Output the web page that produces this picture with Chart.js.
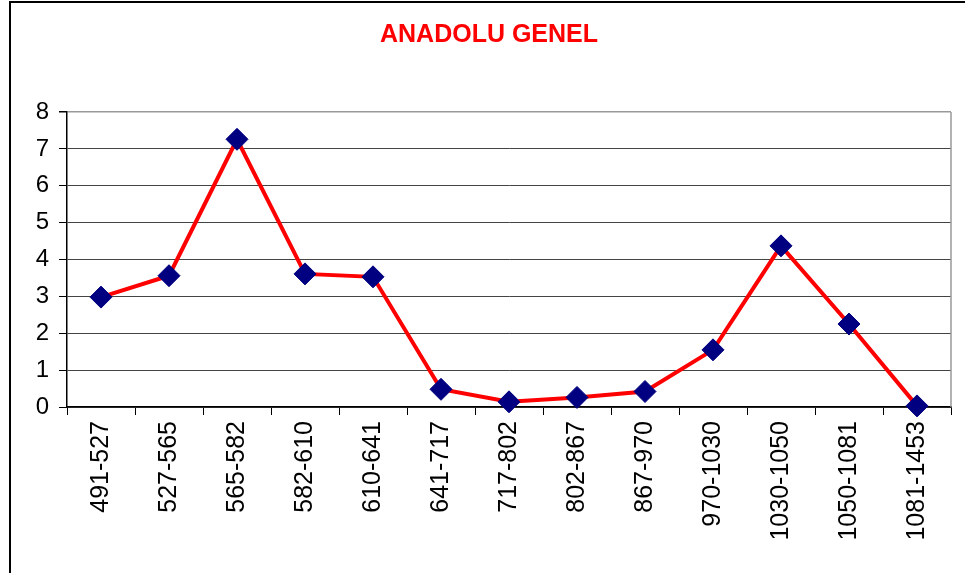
<!DOCTYPE html>
<html>
<head>
<meta charset="utf-8">
<script src="https://cdn.jsdelivr.net/npm/chart.js@4/dist/chart.umd.min.js"></script>
<style>
  html, body { margin: 0; padding: 0; background: #fff; }
  #wrap { width: 965px; height: 573px; position: relative; }
</style>
</head>
<body>
<div id="wrap"><canvas id="chart" width="965" height="573"></canvas></div>
<script>
// ANADOLU GENEL — line chart with diamond markers

const categories = [
  "491-527", "527-565", "565-582", "582-610", "610-641", "641-717", "717-802",
  "802-867", "867-970", "970-1030", "1030-1050", "1050-1081", "1081-1453"
];
const values = [2.98, 3.56, 7.26, 3.61, 3.53, 0.48, 0.14, 0.26, 0.42, 1.55, 4.37, 2.25, 0.03];
const yTicks = [0, 1, 2, 3, 4, 5, 6, 7, 8];

// outer frame + grey right edge of plot area
const framePlugin = {
  id: "frame",
  beforeDraw(chart) {
    const { ctx } = chart;
    ctx.save();
    ctx.strokeStyle = "#000";
    ctx.lineWidth = 2;
    ctx.beginPath();
    ctx.moveTo(10, 700);
    ctx.lineTo(10, 2);
    ctx.lineTo(1200, 2);
    ctx.stroke();
    ctx.restore();
  },
  beforeDatasetsDraw(chart) {
    const { ctx, chartArea } = chart;
    ctx.save();
    ctx.strokeStyle = "#999";
    ctx.lineWidth = 1.5;
    ctx.beginPath();
    ctx.moveTo(chartArea.right, chartArea.top);
    ctx.lineTo(chartArea.right, chartArea.bottom);
    ctx.stroke();
    ctx.restore();
  }
};

new Chart(document.getElementById("chart"), {
  type: "line",
  data: {
    labels: categories,
    datasets: [{
      data: values,
      borderColor: "#FF0000",
      borderWidth: 4,
      pointStyle: "rectRot",
      pointRadius: 11,
      pointBorderWidth: 1,
      pointBackgroundColor: "#000080",
      pointBorderColor: "#000080",
      tension: 0,
      clip: false
    }]
  },
  options: {
    responsive: false,
    animation: false,
    layout: { padding: { left: 27, right: 14, top: 0, bottom: 0 } },
    scales: {
      x: {
        offset: true,
        grid: { drawOnChartArea: false, offset: true, tickLength: 8, color: "#000", tickWidth: 1 },
        border: { color: "#000", width: 1.5 },
        ticks: {
          autoSkip: false, maxRotation: 90, minRotation: 90, padding: 6,
          color: "#000", font: { family: "Liberation Sans, Arial", size: 25 }
        },
        afterFit(scale) { scale.height = 166; }
      },
      y: {
        min: 0, max: 8,
        afterBuildTicks(scale) { scale.ticks = yTicks.map(v => ({ value: v })); },
        grid: {
          tickLength: 8,
          color: ctx => ctx.tick && ctx.tick.value === 8 ? "#999" : "#444",
          lineWidth: ctx => ctx.tick && ctx.tick.value === 8 ? 1.5 : 1,
          tickColor: "#000"
        },
        border: { color: "#000", width: 1.5 },
        ticks: {
          padding: 10, color: "#000",
          font: { family: "Liberation Sans, Arial", size: 24 }
        },
        afterFit(scale) { scale.width = 40; }
      }
    },
    plugins: {
      legend: { display: false },
      tooltip: { enabled: false },
      title: {
        display: true,
        text: "ANADOLU GENEL",
        color: "#FF0000",
        font: { family: "Liberation Sans, Arial", size: 25, weight: "bold", lineHeight: 1.2 },
        padding: { top: 20, bottom: 62 }
      }
    }
  },
  plugins: [framePlugin]
});
</script>
</body>
</html>
